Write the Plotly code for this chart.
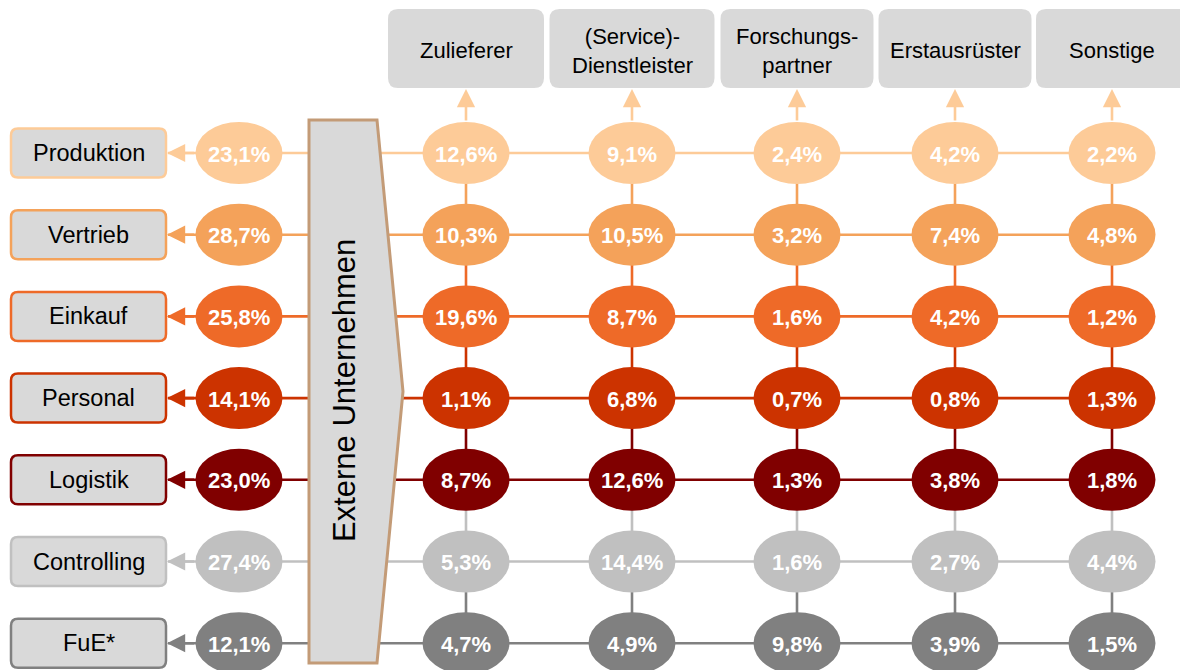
import plotly.graph_objects as go

# ---- data ----
rows = ["Produktion", "Vertrieb", "Einkauf", "Personal", "Logistik", "Controlling", "FuE*"]
columns = ["Zulieferer", "(Service)-<br>Dienstleister", "Forschungs-<br>partner", "Erstausrüster", "Sonstige"]
intern = [23.1, 28.7, 25.8, 14.1, 23.0, 27.4, 12.1]
zulieferer = [12.6, 10.3, 19.6, 1.1, 8.7, 5.3, 4.7]
dienstleister = [9.1, 10.5, 8.7, 6.8, 12.6, 14.4, 4.9]
forschungspartner = [2.4, 3.2, 1.6, 0.7, 1.3, 1.6, 9.8]
erstausruester = [4.2, 7.4, 4.2, 0.8, 3.8, 2.7, 3.9]
sonstige = [2.2, 4.8, 1.2, 1.3, 1.8, 4.4, 1.5]
center_label = "Externe Unternehmen"

# ---- styling / layout constants ----
row_colors = ["#FDCB98", "#F4A25A", "#EE6A28", "#CC3300", "#800000", "#C0C0C0", "#808080"]
col_series = [zulieferer, dienstleister, forschungspartner, erstausruester, sonstige]
col_x = [466, 632, 797, 955, 1112]
head_w = [156, 165, 153, 153, 152]
row_y0, row_dy = 153, 81.7
row_y = [row_y0 + i * row_dy for i in range(len(rows))]
intern_x = 239
ell_w, ell_h = 87, 62
box_x0, box_x1, box_h = 11, 166, 49
head_y0, head_y1 = 9, 88
FONT = "Liberation Sans, Arial, sans-serif"
LW = 2.6


def fmt(v):
    return f"{v:.1f}".replace(".", ",") + "%"


def rrect(x0, y0, x1, y1, r):
    return (f"M{x0+r},{y0} L{x1-r},{y0} Q{x1},{y0} {x1},{y0+r} L{x1},{y1-r} "
            f"Q{x1},{y1} {x1-r},{y1} L{x0+r},{y1} Q{x0},{y1} {x0},{y1-r} "
            f"L{x0},{y0+r} Q{x0},{y0} {x0+r},{y0} Z")


shapes = []
annotations = []

# horizontal lines
for i, y in enumerate(row_y):
    shapes.append(dict(type="line", x0=box_x1 + 2, x1=col_x[-1], y0=y, y1=y,
                       line=dict(color=row_colors[i], width=LW)))

# vertical segments between rows (colour of lower row)
for cx in col_x:
    for i in range(1, len(rows)):
        shapes.append(dict(type="line", x0=cx, x1=cx, y0=row_y[i - 1], y1=row_y[i],
                           line=dict(color=row_colors[i], width=LW)))

# central pentagon arrow
tx0, tx1, tpt = 309, 377, 403
ty0, ty1 = 120, 663
shapes.append(dict(type="path",
                   path=f"M{tx0},{ty0} L{tx1},{ty0} L{tpt},{(ty0+ty1)/2} L{tx1},{ty1} L{tx0},{ty1} Z",
                   fillcolor="#D9D9D9", line=dict(color="#C39B77", width=3)))

# header boxes
for j, cx in enumerate(col_x):
    w = head_w[j]
    shapes.append(dict(type="path", path=rrect(cx - w / 2, head_y0, cx + w / 2, head_y1, 10),
                       fillcolor="#D9D9D9", line=dict(width=0)))
    annotations.append(dict(x=cx, y=(head_y0 + head_y1) / 2 + 2, text=columns[j], showarrow=False,
                            font=dict(family=FONT, size=22, color="#000000")))
    annotations.append(dict(x=cx, y=head_y1 + 1, ax=cx, ay=row_y[0] - ell_h / 2,
                            axref="x", ayref="y", xref="x", yref="y", text="",
                            showarrow=True, arrowhead=2, arrowsize=1.4, arrowwidth=LW,
                            arrowcolor=row_colors[0], standoff=0))

# row label boxes, arrows, ellipses
for i, y in enumerate(row_y):
    c = row_colors[i]
    shapes.append(dict(type="path", path=rrect(box_x0, y - box_h / 2, box_x1, y + box_h / 2, 7),
                       fillcolor="#D9D9D9", line=dict(color=c, width=2.5)))
    annotations.append(dict(x=(box_x0 + box_x1) / 2, y=y, text=rows[i], showarrow=False,
                            font=dict(family=FONT, size=23.5, color="#000000")))
    annotations.append(dict(x=box_x1 + 1, y=y, ax=intern_x - ell_w / 2, ay=y,
                            axref="x", ayref="y", text="", showarrow=True,
                            arrowhead=2, arrowsize=1.4, arrowwidth=LW, arrowcolor=c, standoff=0))
    # intern ellipse
    shapes.append(dict(type="circle", x0=intern_x - ell_w / 2, x1=intern_x + ell_w / 2,
                       y0=y - ell_h / 2, y1=y + ell_h / 2, fillcolor=c, line=dict(width=0)))
    annotations.append(dict(x=intern_x, y=y + 1, text=f"<b>{fmt(intern[i])}</b>", showarrow=False,
                            font=dict(family=FONT, size=22, color="white")))
    for j, cx in enumerate(col_x):
        shapes.append(dict(type="circle", x0=cx - ell_w / 2, x1=cx + ell_w / 2,
                           y0=y - ell_h / 2, y1=y + ell_h / 2, fillcolor=c, line=dict(width=0)))
        annotations.append(dict(x=cx, y=y + 1, text=f"<b>{fmt(col_series[j][i])}</b>", showarrow=False,
                                font=dict(family=FONT, size=22, color="white")))

annotations.append(dict(x=344, y=391, text=center_label, showarrow=False, textangle=-90,
                        font=dict(family=FONT, size=31, color="#000000")))

fig = go.Figure()
fig.update_layout(
    width=1180, height=670,
    margin=dict(l=0, r=0, t=0, b=0),
    paper_bgcolor="white", plot_bgcolor="white",
    xaxis=dict(range=[0, 1180], visible=False, fixedrange=True),
    yaxis=dict(range=[670, 0], visible=False, fixedrange=True),
    shapes=shapes, annotations=annotations, showlegend=False,
)
fig.write_html("out.html", config={"displayModeBar": False},
               post_script="document.body.style.margin='0';document.body.style.overflow='hidden';")
